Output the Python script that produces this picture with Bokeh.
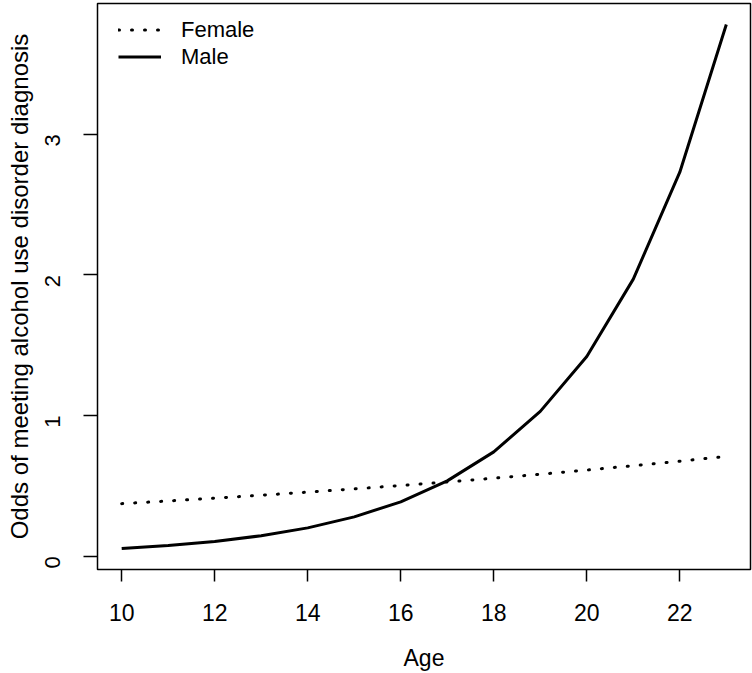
import math
from bokeh.plotting import figure
from bokeh.models import Range1d, FixedTicker, Legend, LegendItem
from bokeh.embed import file_html
from bokeh.resources import INLINE

# Data
age = [10, 11, 12, 13, 14, 15, 16, 17, 18, 19, 20, 21, 22, 23]
female = [0.374, 0.393, 0.413, 0.434, 0.456, 0.479, 0.503, 0.528, 0.555, 0.583, 0.613, 0.644, 0.676, 0.71]
male = [0.055, 0.076, 0.105, 0.146, 0.202, 0.28, 0.387, 0.536, 0.742, 1.03, 1.42, 1.97, 2.73, 3.78]
x_ticks = [10, 12, 14, 16, 18, 20, 22]
y_ticks = [0, 1, 2, 3]
x_title = "Age"
y_title = "Odds of meeting alcohol use disorder diagnosis"

FONT = "Liberation Sans"

xr = (min(age), max(age))
ymin, ymax = min(male + female), max(male + female)
xe = (xr[1] - xr[0]) * 0.04
ye = (ymax - ymin) * 0.04

p = figure(width=752, height=673, output_backend="svg", toolbar_location=None,
           x_range=Range1d(xr[0] - xe, xr[1] + xe),
           y_range=Range1d(ymin - ye, ymax + ye),
           min_border_left=97, min_border_right=2, min_border_top=3, min_border_bottom=104)

p.xgrid.visible = False
p.ygrid.visible = False
p.outline_line_color = "black"
p.outline_line_width = 1.5
p.background_fill_color = "white"
p.border_fill_color = "white"

for ax in (p.xaxis[0], p.yaxis[0]):
    ax.axis_line_color = None
    ax.minor_tick_line_color = None
    ax.major_tick_line_color = "black"
    ax.major_tick_line_width = 1.5
    ax.major_tick_in = 0
    ax.major_label_text_font = FONT
    ax.major_label_text_color = "black"
    ax.axis_label_text_font = FONT
    ax.axis_label_text_font_style = "normal"
    ax.axis_label_text_color = "black"

p.xaxis.ticker = FixedTicker(ticks=x_ticks)
p.yaxis.ticker = FixedTicker(ticks=y_ticks)
p.xaxis.axis_label = x_title
p.yaxis.axis_label = y_title

p.xaxis.major_tick_out = 12
p.xaxis.major_label_text_font_size = "23px"
p.xaxis.axis_label_text_font_size = "23px"
p.xaxis.major_label_standoff = 22
p.xaxis.axis_label_standoff = 21

p.yaxis.major_tick_out = 14
p.yaxis.major_label_orientation = math.pi / 2
p.yaxis.major_label_text_font_size = "22px"
p.yaxis.axis_label_text_font_size = "24px"
p.yaxis.major_label_standoff = 31
p.yaxis.axis_label_standoff = 2

rf = p.line(age, female, line_color="black", line_width=3, line_dash="1 12", line_cap="round")
rm = p.line(age, male, line_color="black", line_width=3)

legend = Legend(items=[LegendItem(label="Female", renderers=[rf]),
                       LegendItem(label="Male", renderers=[rm])],
                location=(21, 499))
legend.label_text_font = FONT
legend.label_text_font_size = "22px"
legend.label_text_color = "black"
legend.glyph_width = 43
legend.glyph_height = 27
legend.label_height = 27
legend.label_standoff = 20
legend.spacing = 0
legend.padding = 6
legend.margin = 0
legend.border_line_color = None
legend.background_fill_alpha = 0
p.add_layout(legend)

open("out.html", "w").write(file_html(p, INLINE))
